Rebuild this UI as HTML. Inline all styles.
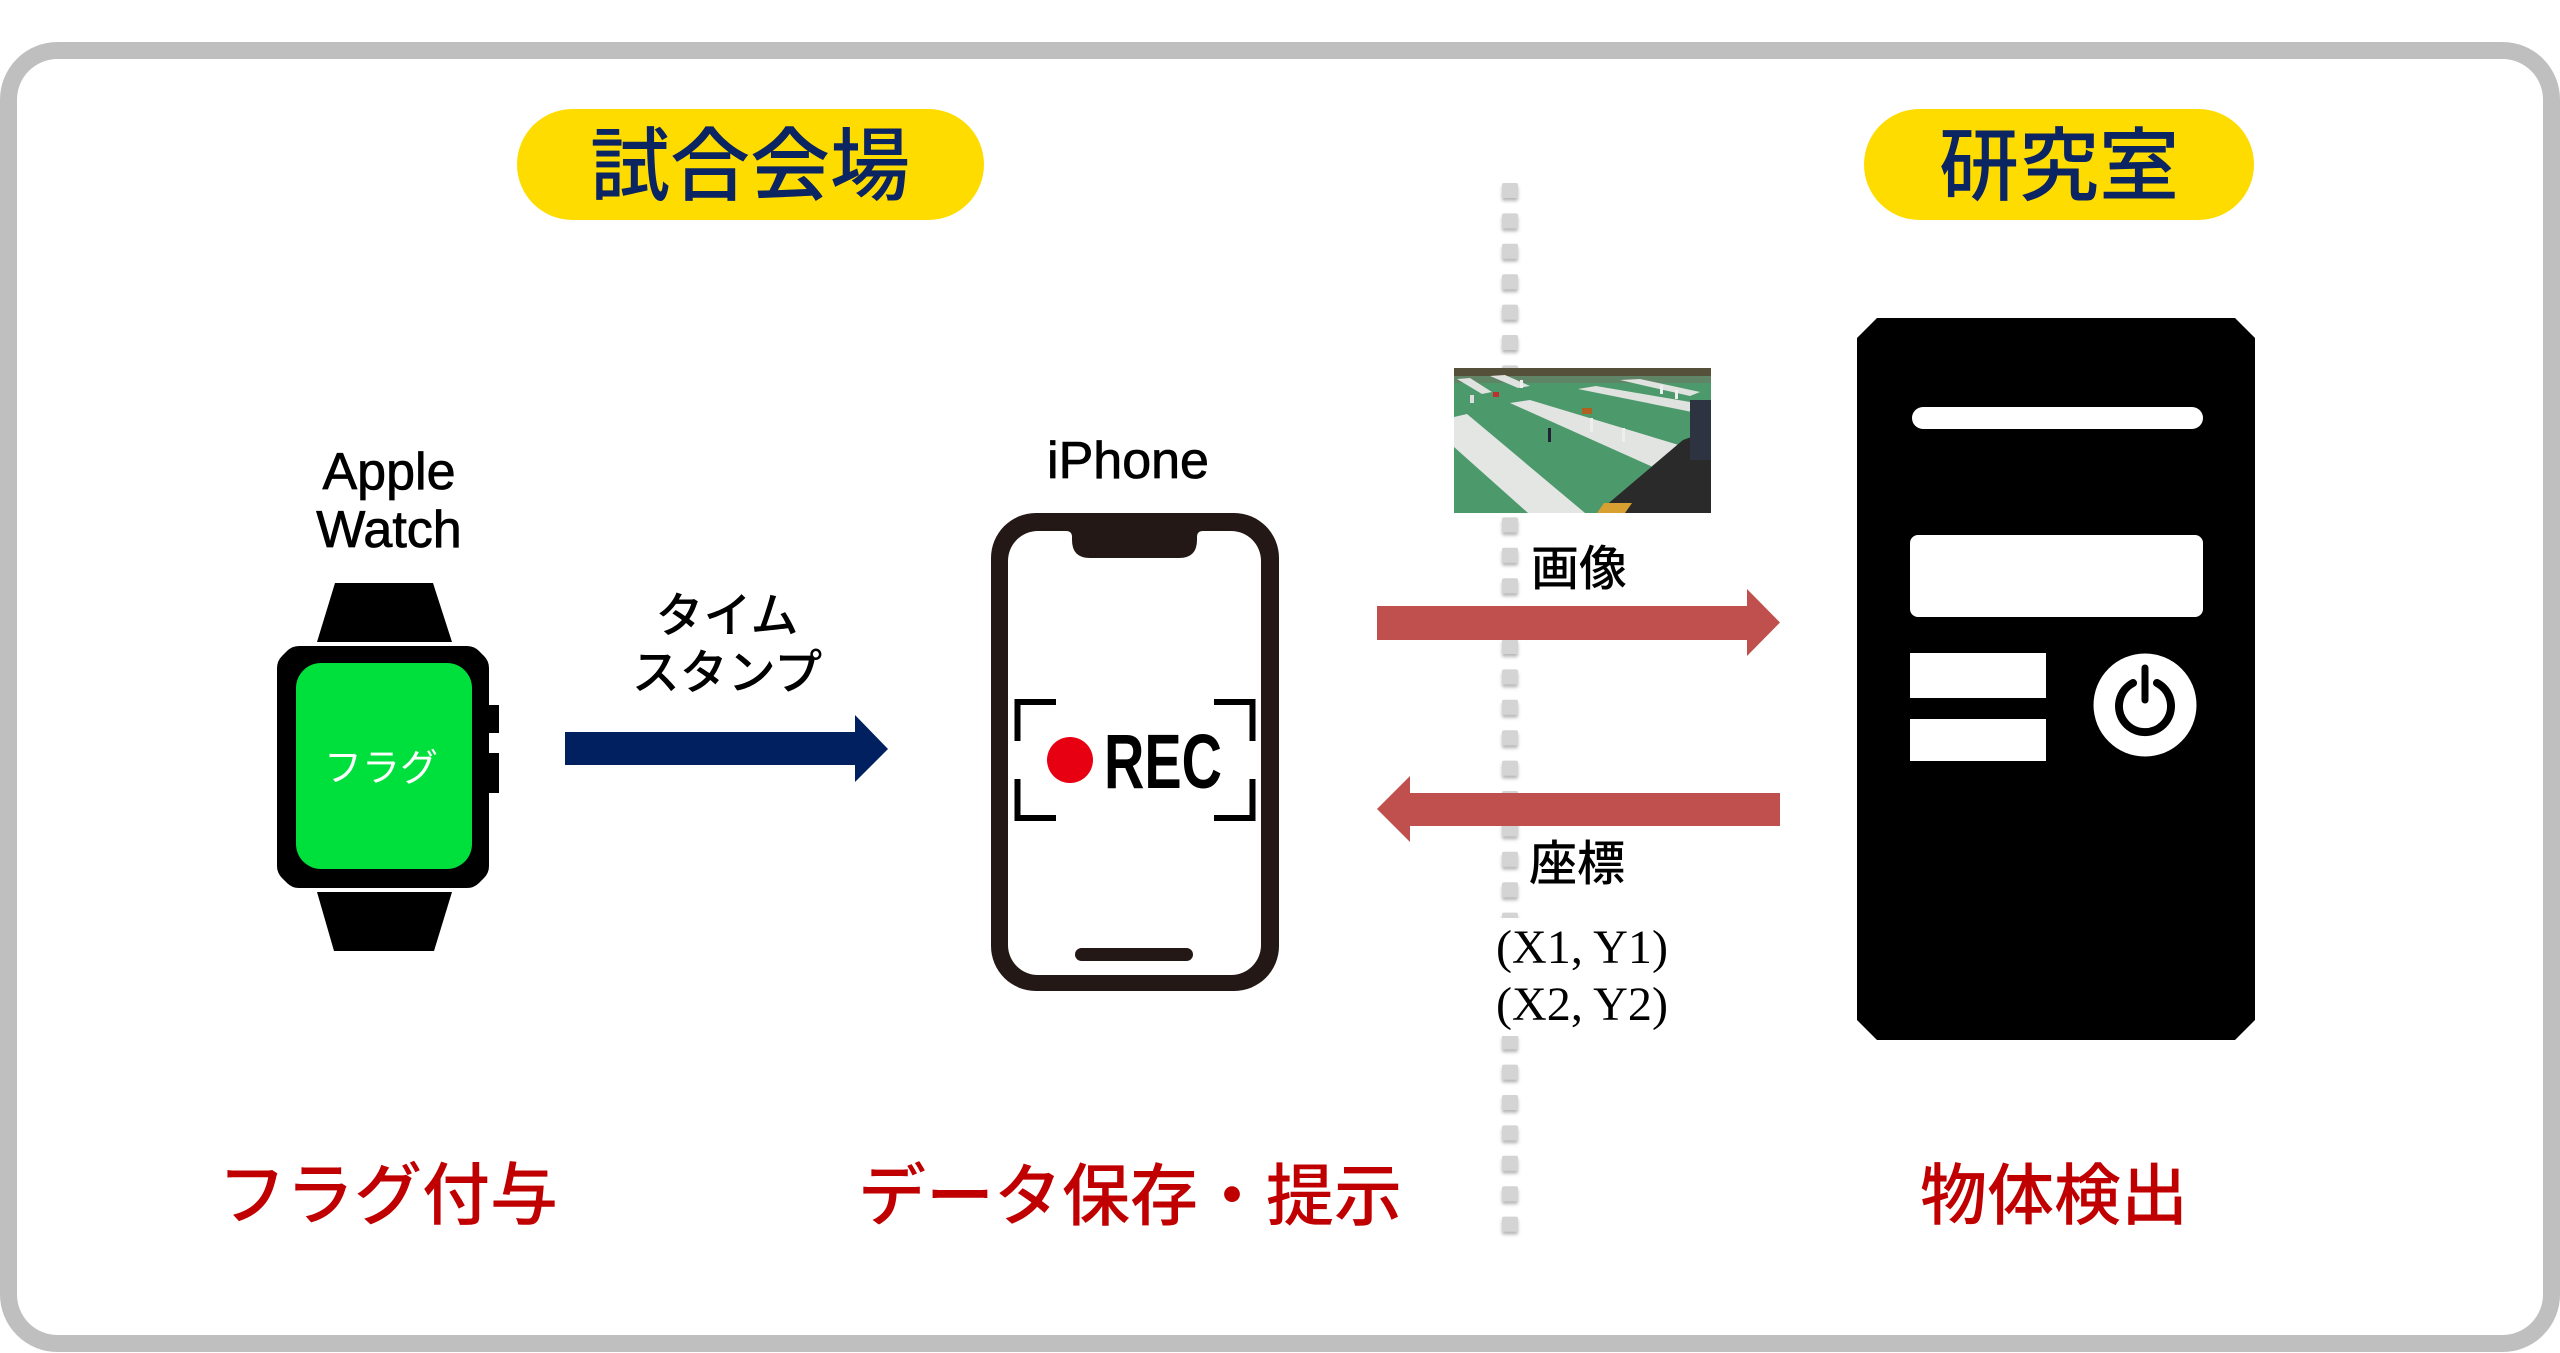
<!DOCTYPE html>
<html>
<head>
<meta charset="utf-8">
<style>
  html,body{margin:0;padding:0;background:#fff;}
  svg{display:block;}
  .jp{font-family:"Liberation Sans","Noto Sans CJK JP",sans-serif;}
  .lat{font-family:"Liberation Sans",sans-serif;}
  .ser{font-family:"Liberation Serif",serif;}
</style>
</head>
<body>
<svg width="2560" height="1353" viewBox="0 0 2560 1353" xmlns="http://www.w3.org/2000/svg">
  <defs>
    <filter id="ds" x="-50%" y="-50%" width="200%" height="200%">
      <feDropShadow dx="0" dy="3" stdDeviation="1.5" flood-color="#888" flood-opacity="0.6"/>
    </filter>
    <clipPath id="photoClip"><rect x="1454" y="368" width="257" height="145"/></clipPath>
  </defs>

  <!-- Outer frame -->
  <rect x="8.5" y="50.5" width="2543" height="1293" rx="49" ry="49" fill="#fff" stroke="#bfbfbf" stroke-width="17"/>

  <!-- Pills -->
  <rect x="517" y="109" width="467" height="111" rx="55.5" fill="#ffdc00"/>
  <text x="750" y="194" text-anchor="middle" class="jp" font-size="80" font-weight="500" fill="#0b2462">試合会場</text>
  <rect x="1864" y="109" width="390" height="111" rx="55.5" fill="#ffdc00"/>
  <text x="2059" y="194" text-anchor="middle" class="jp" font-size="80" font-weight="500" fill="#0b2462">研究室</text>

  <!-- Dotted separator -->
  <g fill="#d4d4d4" filter="url(#ds)">
    <rect x="1502" y="183" width="16" height="15" rx="2"/>
    <rect x="1502" y="213.4" width="16" height="15" rx="2"/>
    <rect x="1502" y="243.8" width="16" height="15" rx="2"/>
    <rect x="1502" y="274.2" width="16" height="15" rx="2"/>
    <rect x="1502" y="304.6" width="16" height="15" rx="2"/>
    <rect x="1502" y="335" width="16" height="15" rx="2"/>
    <rect x="1502" y="365.4" width="16" height="15" rx="2"/>
    <rect x="1502" y="395.8" width="16" height="15" rx="2"/>
    <rect x="1502" y="426.2" width="16" height="15" rx="2"/>
    <rect x="1502" y="456.6" width="16" height="15" rx="2"/>
    <rect x="1502" y="487" width="16" height="15" rx="2"/>
    <rect x="1502" y="517.4" width="16" height="15" rx="2"/>
    <rect x="1502" y="547.8" width="16" height="15" rx="2"/>
    <rect x="1502" y="578.2" width="16" height="15" rx="2"/>
    <rect x="1502" y="608.6" width="16" height="15" rx="2"/>
    <rect x="1502" y="639" width="16" height="15" rx="2"/>
    <rect x="1502" y="669.4" width="16" height="15" rx="2"/>
    <rect x="1502" y="699.8" width="16" height="15" rx="2"/>
    <rect x="1502" y="730.2" width="16" height="15" rx="2"/>
    <rect x="1502" y="760.6" width="16" height="15" rx="2"/>
    <rect x="1502" y="791" width="16" height="15" rx="2"/>
    <rect x="1502" y="821.4" width="16" height="15" rx="2"/>
    <rect x="1502" y="851.8" width="16" height="15" rx="2"/>
    <rect x="1502" y="882.2" width="16" height="15" rx="2"/>
    <rect x="1502" y="912.6" width="16" height="15" rx="2"/>
    <rect x="1502" y="943" width="16" height="15" rx="2"/>
    <rect x="1502" y="973.4" width="16" height="15" rx="2"/>
    <rect x="1502" y="1003.8" width="16" height="15" rx="2"/>
    <rect x="1502" y="1034.2" width="16" height="15" rx="2"/>
    <rect x="1502" y="1064.6" width="16" height="15" rx="2"/>
    <rect x="1502" y="1095" width="16" height="15" rx="2"/>
    <rect x="1502" y="1125.4" width="16" height="15" rx="2"/>
    <rect x="1502" y="1155.8" width="16" height="15" rx="2"/>
    <rect x="1502" y="1186.2" width="16" height="15" rx="2"/>
    <rect x="1502" y="1216.6" width="16" height="15" rx="2"/>
  </g>

  <!-- Apple Watch -->
  <text x="389" y="489" text-anchor="middle" class="lat" font-size="52" fill="#000" stroke="#000" stroke-width="0.8">Apple</text>
  <text x="389" y="547" text-anchor="middle" class="lat" font-size="52" fill="#000" stroke="#000" stroke-width="0.8">Watch</text>
  <polygon points="335,583 433,583 452,642 317,642" fill="#000"/>
  <path d="M299,646 H467 Q474,646 479,651 L484,656 Q489,661 489,668 V866 Q489,873 484,878 L479,883 Q474,888 467,888 H299 Q292,888 287,883 L282,878 Q277,873 277,866 V668 Q277,661 282,656 L287,651 Q292,646 299,646 Z" fill="#000"/>
  <rect x="296" y="663" width="176" height="206" rx="25" fill="#00e03c"/>
  <rect x="487" y="705" width="12" height="28" fill="#000"/>
  <rect x="487" y="753" width="12" height="40" fill="#000"/>
  <polygon points="317,892 452,892 434,951 334,951" fill="#000"/>
  <text x="381" y="781" text-anchor="middle" class="jp" font-size="38" fill="#fff">フラグ</text>

  <!-- Timestamp label & navy arrow -->
  <text x="727" y="632" text-anchor="middle" class="jp" font-size="48" font-weight="500" fill="#000">タイム</text>
  <text x="727" y="689" text-anchor="middle" class="jp" font-size="48" font-weight="500" fill="#000">スタンプ</text>
  <polygon points="565,732 855,732 855,715 888,749 855,782 855,765 565,765" fill="#002060"/>

  <!-- iPhone -->
  <text x="1128" y="478" text-anchor="middle" class="lat" font-size="52" fill="#000" stroke="#000" stroke-width="0.8">iPhone</text>
  <rect x="991" y="513" width="288" height="478" rx="45" fill="#231815"/>
  <rect x="1008" y="531" width="253" height="444" rx="30" fill="#fff"/>
  <path d="M1066,531 Q1072,531 1072,537 V540 Q1072,558 1090,558 H1179 Q1197,558 1197,540 V537 Q1197,531 1203,531 Z" fill="#231815"/>
  <rect x="1075" y="948" width="118" height="13" rx="6.5" fill="#231815"/>
  <g fill="none" stroke="#000" stroke-width="6">
    <path d="M1017.5,741 V702 H1056"/>
    <path d="M1017.5,779 V818 H1056"/>
    <path d="M1252.5,741 V702 H1214"/>
    <path d="M1252.5,779 V818 H1214"/>
  </g>
  <circle cx="1070" cy="760" r="23" fill="#e60012"/>
  <text x="1104" y="788" class="lat" font-size="77" font-weight="700" fill="#000" textLength="118" lengthAdjust="spacingAndGlyphs">REC</text>

  <!-- Photo -->
  <g clip-path="url(#photoClip)">
    <rect x="1454" y="368" width="257" height="145" fill="#4c9a6c"/>
    <rect x="1454" y="368" width="257" height="8" fill="#55503a"/>
    <polygon points="1454,376 1711,376 1711,383 1454,383" fill="#5f8466"/>
    <polygon points="1454,417 1467,414 1585,513 1528,513 1454,447" fill="#e4e6e4"/>
    <polygon points="1510,403 1530,400 1682,446 1655,468" fill="#e2e4e2"/>
    <polygon points="1578,389 1596,386 1702,404 1692,412" fill="#dfe2df"/>
    <polygon points="1457,379 1470,378 1492,392 1482,394" fill="#dfe2df"/>
    <polygon points="1490,376 1505,375 1530,386 1518,388" fill="#dfe2df"/>
    <polygon points="1620,380 1640,379 1700,392 1690,396" fill="#dfe2df"/>
    <polygon points="1597,513 1683,440 1711,430 1711,513" fill="#2a2a2a"/>
    <polygon points="1597,513 1604,503 1632,503 1625,513" fill="#d8a030"/>
    <rect x="1690" y="400" width="21" height="60" fill="#2d3340"/>
    <rect x="1548" y="428" width="3" height="14" fill="#223"/>
    <rect x="1590" y="418" width="3" height="14" fill="#eee"/>
    <rect x="1622" y="428" width="3" height="14" fill="#eee"/>
    <rect x="1582" y="408" width="10" height="6" fill="#b06020"/>
    <rect x="1470" y="395" width="4" height="8" fill="#ddd"/>
    <rect x="1493" y="392" width="6" height="5" fill="#c03030"/>
    <rect x="1520" y="380" width="3" height="8" fill="#eee"/>
    <rect x="1660" y="385" width="3" height="9" fill="#eee"/>
    <rect x="1675" y="390" width="3" height="9" fill="#eee"/>
  </g>

  <!-- 画像 label and right arrow -->
  <text x="1531" y="585" class="jp" font-size="48" font-weight="500" fill="#000">画像</text>
  <polygon points="1377,606 1747,606 1747,589 1780,622.5 1747,656 1747,640 1377,640" fill="#c0504d"/>

  <!-- left arrow and 座標 -->
  <polygon points="1377,809 1410,776 1410,793 1780,793 1780,826 1410,826 1410,842" fill="#c0504d"/>
  <text x="1529" y="880" class="jp" font-size="48" font-weight="500" fill="#000">座標</text>
  <rect x="1492" y="918" width="182" height="118" fill="#fff"/>
  <text x="1496" y="963" class="ser" font-size="48" fill="#000" textLength="172" lengthAdjust="spacingAndGlyphs">(X1, Y1)</text>
  <text x="1496" y="1020" class="ser" font-size="48" fill="#000" textLength="172" lengthAdjust="spacingAndGlyphs">(X2, Y2)</text>

  <!-- Computer tower -->
  <path d="M1877,318 H2235 L2255,338 V1020 L2235,1040 H1877 L1857,1020 V338 Z" fill="#000"/>
  <rect x="1912" y="407" width="291" height="22" rx="11" fill="#fff"/>
  <rect x="1910" y="535" width="293" height="82" rx="8" fill="#fff"/>
  <rect x="1910" y="653" width="136" height="45" fill="#fff"/>
  <rect x="1910" y="719" width="136" height="42" fill="#fff"/>
  <circle cx="2145" cy="705" r="51.5" fill="#fff"/>
  <path d="M2133,683 A26,26 0 1 0 2157,683" fill="none" stroke="#000" stroke-width="8" stroke-linecap="round"/>
  <line x1="2145" y1="668" x2="2145" y2="700" stroke="#000" stroke-width="7" stroke-linecap="round"/>

  <!-- Bottom red labels -->
  <text x="388" y="1219" text-anchor="middle" class="jp" font-size="68" font-weight="500" fill="#c00000">フラグ付与</text>
  <text x="1130" y="1220" text-anchor="middle" class="jp" font-size="68" font-weight="500" fill="#c00000">データ保存・提示</text>
  <text x="2054" y="1219" text-anchor="middle" class="jp" font-size="67" font-weight="500" fill="#c00000">物体検出</text>
</svg>
</body>
</html>
